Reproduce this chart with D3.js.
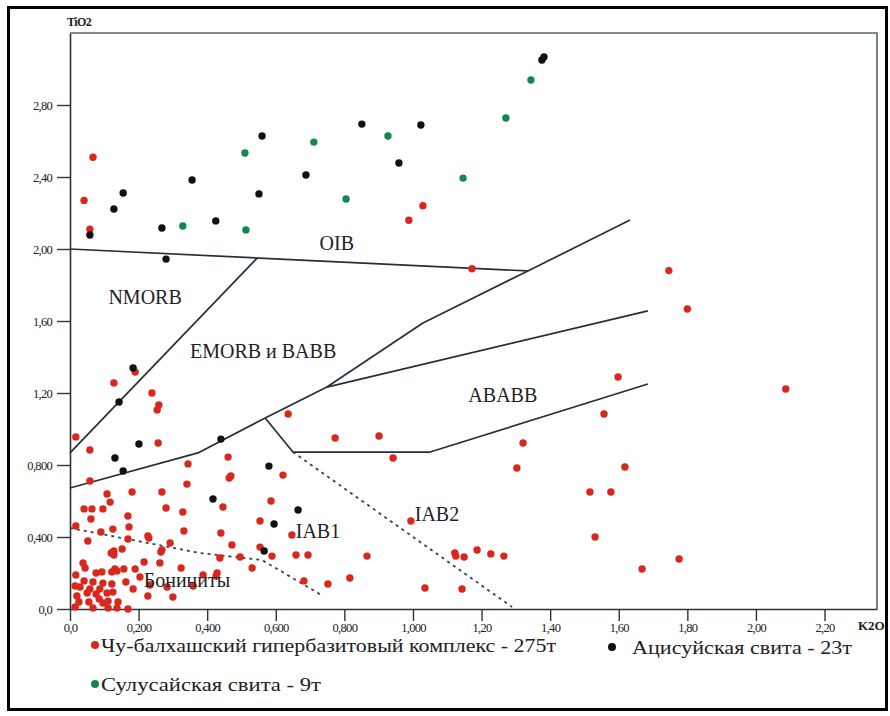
<!DOCTYPE html>
<html>
<head>
<meta charset="utf-8">
<script src="https://cdn.jsdelivr.net/npm/d3@7"></script>
<style>
  html, body { margin: 0; padding: 0; background: #fff; }
  svg { display: block; }
  text { font-family: "Liberation Serif", "DejaVu Serif", serif; }
</style>
</head>
<body>
<svg id="chart" width="890" height="716"></svg>
<script>
// K2O (wt.%) vs TiO2 (wt.%) discrimination diagram

const xTickValues = [0, 0.2, 0.4, 0.6, 0.8, 1.0, 1.2, 1.4, 1.6, 1.8, 2.0, 2.2];
const xTickLabels = ["0,0", "0,200", "0,400", "0,600", "0,800", "1,000", "1,20", "1,40", "1,60", "1,80", "2,00", "2,20"];
const yTickValues = [0, 0.4, 0.8, 1.2, 1.6, 2.0, 2.4, 2.8];
const yTickLabels = ["0,0", "0,400", "0,800", "1,20", "1,60", "2,00", "2,40", "2,80"];

// [K2O, TiO2] pairs for each suite
const chuBalkhash = [
  [0.067,2.51],[0.041,2.27],[0.058,2.11],[0.988,2.16],[1.029,2.24],[1.172,1.89],
  [1.746,1.88],[1.800,1.667],[2.087,1.222],[1.598,1.289],[1.557,1.083],[1.618,0.789],
  [1.516,0.65],[1.577,0.65],[1.531,0.40],[1.776,0.278],[1.668,0.222],
  [0.636,1.083],[0.773,0.95],[0.901,0.961],[0.942,0.839],[1.321,0.922],[1.303,0.783],
  [0.994,0.489],[0.647,0.411],[0.659,0.30],[0.694,0.30],[0.866,0.294],[1.122,0.311],
  [1.125,0.294],[1.149,0.289],[1.187,0.328],[1.227,0.306],[1.265,0.294],[0.682,0.156],
  [0.752,0.139],[0.816,0.172],[1.035,0.117],[1.143,0.111],[0.621,0.744],
  [0.058,0.883],[0.257,0.922],[0.058,0.711],[0.344,0.806],[0.461,0.844],[0.469,0.739],
  [0.464,0.728],[0.341,0.694],[0.108,0.639],[0.117,0.594],[0.181,0.65],[0.268,0.65],
  [0.280,0.561],[0.329,0.539],[0.446,0.567],[0.586,0.60],[0.041,0.556],[0.064,0.556],
  [0.096,0.556],[0.061,0.50],[0.169,0.517],[0.554,0.489],[0.017,0.461],[0.172,0.456],
  [0.125,0.444],[0.090,0.428],[0.332,0.433],[0.440,0.422],[0.052,0.378],[0.169,0.389],
  [0.227,0.406],[0.230,0.394],[0.292,0.367],[0.472,0.356],[0.554,0.344],
  [0.265,0.317],[0.268,0.328],[0.120,0.311],[0.128,0.30],[0.152,0.333],[0.128,0.322],
  [0.589,0.294],[0.437,0.283],[0.496,0.289],[0.531,0.228],[0.324,0.228],[0.216,0.261],
  [0.262,0.256],[0.157,0.222],[0.190,0.222],[0.131,0.222],[0.429,0.20],[0.426,0.183],
  [0.388,0.189],[0.283,0.122],[0.359,0.128],[0.227,0.072],[0.300,0.067],
  [0.038,0.256],[0.044,0.228],[0.017,0.189],[0.076,0.20],[0.093,0.206],[0.122,0.206],
  [0.137,0.211],[0.041,0.156],[0.015,0.128],[0.029,0.122],[0.067,0.15],[0.096,0.144],
  [0.122,0.139],[0.163,0.15],[0.204,0.178],[0.233,0.133],[0.058,0.111],[0.087,0.111],
  [0.020,0.072],[0.050,0.089],[0.076,0.083],[0.108,0.089],[0.125,0.094],[0.184,0.111],
  [0.026,0.039],[0.055,0.039],[0.085,0.056],[0.096,0.033],[0.111,0.044],[0.140,0.039],
  [0.015,0.011],[0.067,0.006],[0.111,0.006],[0.137,0.006],[0.169,0.0],
  [0.017,0.956],[0.128,1.256],[0.190,1.317],[0.239,1.20],[0.259,1.133],[0.254,1.106]
];

const atsisu = [
  [0.560,2.628],[0.356,2.383],[0.155,2.311],[0.128,2.222],[0.268,2.117],[0.425,2.156],
  [0.551,2.306],[0.058,2.078],[0.851,2.694],[1.023,2.689],[0.959,2.478],[0.688,2.411],
  [1.376,3.050],[1.382,3.067],[0.280,1.944],[0.184,1.339],[0.143,1.150],[0.201,0.917],
  [0.131,0.839],[0.440,0.944],[0.155,0.767],[0.580,0.794],[0.417,0.611],[0.665,0.550],
  [0.595,0.472],[0.566,0.322]
];

const sulusai = [
  [0.329,2.128],[0.510,2.533],[0.513,2.106],[0.711,2.594],[0.805,2.278],[0.927,2.628],
  [1.146,2.394],[1.271,2.728],[1.344,2.939]
];

// Field boundaries, [K2O, TiO2] vertices
const oibBase = [[0, 2.0], [1.335, 1.878]];
const nmorbEdge = [[0, 0.867], [0.545, 1.948]];
const emorbBase = [[0, 0.672], [0.373, 0.867], [0.569, 1.061]];
const longDivide = [[0.569, 1.061], [0.749, 1.233], [1.029, 1.589], [1.335, 1.878], [1.633, 2.161]];
const ababbTop = [[0.749, 1.233], [1.685, 1.656]];
const ababbBase = [[0.569, 1.061], [0.650, 0.872], [1.050, 0.872], [1.685, 1.25]];
const iabDivide = [[0.650, 0.872], [1.289, 0.011]];
const boniniteTop = [[0, 0.45], [0.379, 0.311], [0.560, 0.272], [0.738, 0.072]];

const fieldNames = ["OIB", "NMORB", "EMORB и BABB", "ABABB", "IAB1", "IAB2", "Бониниты"];
const fieldAnchors = [[0.778, 2.02], [0.219, 1.72], [0.563, 1.42], [1.262, 1.178], [0.723, 0.42], [1.070, 0.515], [0.341, 0.15]];

const legendNames = [
  "Чу-балхашский гипербазитовый комплекс - 275т",
  "Ацисуйская свита - 23т",
  "Сулусайская свита - 9т"
];

const svg = d3.select("#chart");
const x = d3.scaleLinear().domain([0, 2.353]).range([70, 877]);
const y = d3.scaleLinear().domain([0, 3.2]).range([609, 33]);

// plot frame (top and right edges)
svg.append("path")
  .attr("d", `M${x(0)},${y(3.2)}H${x(2.353)}V${y(0)}`)
  .attr("fill", "none").attr("stroke", "#55656c").attr("stroke-width", 1.6);

// axes
const xAxis = d3.axisBottom(x).tickValues(xTickValues)
  .tickFormat((d, i) => xTickLabels[i]).tickSize(12).tickPadding(1).tickSizeOuter(0);
const yAxis = d3.axisLeft(y).tickValues(yTickValues)
  .tickFormat((d, i) => yTickLabels[i]).tickSize(13).tickSizeOuter(0);

const gx = svg.append("g").attr("transform", `translate(0,${y(0)})`).call(xAxis);
const gy = svg.append("g").attr("transform", `translate(${x(0)},0)`).call(yAxis);
[gx, gy].forEach(g => {
  g.attr("font-size", null).attr("font-family", null);
  g.selectAll(".domain").attr("stroke", "#2c3438").attr("stroke-width", 1.6);
  g.selectAll(".tick line").attr("stroke", "#2c3438").attr("stroke-width", 1.4);
  g.selectAll(".tick text")
    .style("font-family", "'Liberation Serif', serif")
    .style("font-size", "12.5px").attr("fill", "#222")
    .attr("letter-spacing", "-0.7px");
});
gx.selectAll(".tick text").attr("dy", "0.78em");
gy.selectAll(".tick text").attr("dx", "-2").attr("dy", "0.35em");

// axis titles
svg.append("text").attr("x", 67).attr("y", 26).text("TiO2")
  .attr("font-size", 12).attr("font-weight", "bold").attr("fill", "#222").attr("letter-spacing", "-0.6px");
svg.append("text").attr("x", 858).attr("y", 630).text("K2O")
  .attr("font-size", 13).attr("font-weight", "bold").attr("fill", "#222");

// field boundaries
const line = d3.line().x(d => x(d[0])).y(d => y(d[1]));
[oibBase, nmorbEdge, emorbBase, longDivide, ababbTop, ababbBase].forEach(pts => {
  svg.append("path").attr("d", line(pts)).attr("fill", "none")
    .attr("stroke", "#233038").attr("stroke-width", 1.7).attr("stroke-linejoin", "round");
});
[iabDivide, boniniteTop].forEach(pts => {
  svg.append("path").attr("d", line(pts)).attr("fill", "none")
    .attr("stroke", "#3a4448").attr("stroke-width", 1.8).attr("stroke-dasharray", "3,4");
});

// sample points
const series = [
  { pts: chuBalkhash, color: "#d9271d" },
  { pts: atsisu, color: "#111111" },
  { pts: sulusai, color: "#13884a" }
];
series.forEach(s => {
  svg.append("g").selectAll("circle").data(s.pts).join("circle")
    .attr("cx", d => x(d[0])).attr("cy", d => y(d[1])).attr("r", 3.7)
    .attr("fill", s.color);
});

// field labels
svg.append("g").selectAll("text").data(fieldNames).join("text")
  .attr("x", (d, i) => x(fieldAnchors[i][0]))
  .attr("y", (d, i) => y(fieldAnchors[i][1]))
  .attr("text-anchor", "middle").attr("dominant-baseline", "middle")
  .attr("font-size", 20).attr("fill", "#1d2326")
  .text(d => d);

// legend
const legendPos = [[95, 645, 101, 455], [612, 647, 632, 220], [95, 684, 101, 220]];
const lg = svg.append("g");
legendNames.forEach((name, i) => {
  const [cx, cy, tx, len] = legendPos[i];
  lg.append("circle").attr("cx", cx).attr("cy", cy).attr("r", 4).attr("fill", series[i].color);
  lg.append("text").attr("x", tx).attr("y", cy + 7).text(name)
    .attr("font-size", 18).attr("fill", "#222")
    .attr("textLength", len).attr("lengthAdjust", "spacingAndGlyphs");
});

// outer border
svg.append("rect").attr("x", 8.5).attr("y", 7.5).attr("width", 878).attr("height", 702)
  .attr("fill", "none").attr("stroke", "#000").attr("stroke-width", 3);
</script>
</body>
</html>
